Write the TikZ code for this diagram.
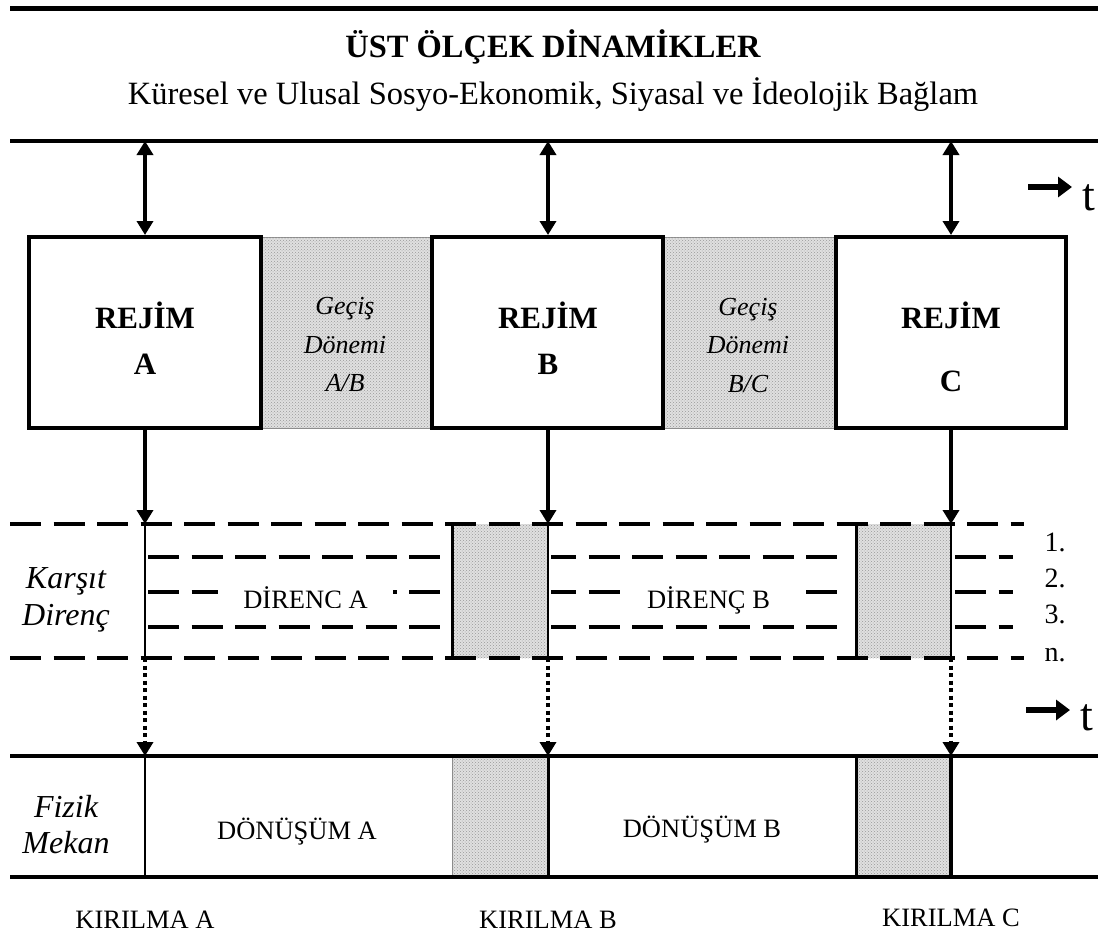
\documentclass[tikz,border=0pt]{standalone}
\usepackage{fontspec}
\setmainfont{Liberation Serif}
\usetikzlibrary{arrows.meta,patterns}
\newcommand{\sizept}[1]{\fontsize{#1}{#1}\selectfont}

\begin{document}
\begin{tikzpicture}[x=1pt,y=-1pt,
  rule/.style={line width=4pt},
  frame/.style={draw, line width=4pt, minimum height=191pt, inner sep=0pt},
  shadebox/.style={fill=black!12, postaction={pattern=crosshatch dots, pattern color=black!40}},
  lbl/.style={inner sep=0pt, anchor=base},
  reg/.style={lbl, font=\bfseries\sizept{31}},
  ital/.style={lbl, font=\itshape\sizept{26}},
  side/.style={lbl, font=\itshape\sizept{32}},
  plain/.style={lbl, font=\sizept{26.5}},
  num/.style={lbl, font=\sizept{28}},
  tee/.style={lbl, font=\sizept{46}},
  dbl/.style={line width=3.5pt, {Triangle[length=14pt,width=16pt]}-{Triangle[length=14pt,width=16pt]}},
  down/.style={line width=3.5pt, -{Triangle[length=14pt,width=16pt]}},
  dotdown/.style={line width=4pt, dash pattern=on 4pt off 3.5pt, -{Triangle[length=14pt,width=16pt]}},
  level/.style={line width=4pt, dash pattern=on 31pt off 12.5pt},
  timearrow/.style={line width=6pt, -{Triangle[length=14pt,width=20pt]}}
]
\useasboundingbox (0,0) rectangle (1106,935);

% ---------- header ----------
\draw[line width=5pt] (10,8) -- (1098,8);
\node[lbl, font=\bfseries\sizept{32.5}] (title) at (553,57) {ÜST ÖLÇEK DİNAMİKLER};
\node[lbl, font=\sizept{32.5}] (subtitle) at (553,104) {Küresel ve Ulusal Sosyo-Ekonomik, Siyasal ve İdeolojik Bağlam};
\draw[rule] (10,141) -- (1098,141);

% time arrow (upper)
\coordinate (t1s) at (1028,187);
\coordinate (t1e) at (1072,187);
\draw[timearrow] (t1s) -- (t1e);
\node[tee] (t1) at (1089,210) {t};

% ---------- regime row ----------
\node[shadebox, draw=black!45, line width=1pt, minimum width=171pt, minimum height=191pt, inner sep=0pt] (gab) at (346.5,332.5) {};
\node[shadebox, draw=black!45, line width=1pt, minimum width=173pt, minimum height=191pt, inner sep=0pt] (gbc) at (749.5,332.5) {};
\node[frame, minimum width=232pt] (ra) at (145,332.5) {};
\node[frame, minimum width=231pt] (rb) at (547.5,332.5) {};
\node[frame, minimum width=230pt] (rc) at (951,332.5) {};

\node[reg] (ra1) at (145,328) {REJİM};
\node[reg] (ra2) at (145,374) {A};
\node[reg] (rb1) at (548,328) {REJİM};
\node[reg] (rb2) at (548,374) {B};
\node[reg] (rc1) at (951,328) {REJİM};
\node[reg] (rc2) at (951,391) {C};

\node[ital] (gab1) at (345,314) {Geçiş};
\node[ital] (gab2) at (345,353) {Dönemi};
\node[ital] (gab3) at (345,391) {A/B};
\node[ital] (gbc1) at (748,315) {Geçiş};
\node[ital] (gbc2) at (748,353) {Dönemi};
\node[ital] (gbc3) at (748,392) {B/C};

% links to the upper context
\coordinate (ua) at (145,141);
\coordinate (ub) at (548,141);
\coordinate (uc) at (951,141);
\draw[dbl] (ua) -- (ra.north);
\draw[dbl] (ub) -- (ra.north -| ub);
\draw[dbl] (uc) -- (rc.north);

% ---------- opposing resistance row ----------
\coordinate (da) at (145,524);
\coordinate (db) at (548,524);
\coordinate (dc) at (951,524);
\coordinate (na) at (145,658);
\coordinate (nb) at (548,658);
\coordinate (nc) at (951,658);

\path[shadebox] (452,524) rectangle (548,658);
\path[shadebox] (856,524) rectangle (951,658);

% resistance levels
\draw[level] (10,524) -- (1024,524);
\draw[level] (10,658) -- (1024,658);
\foreach \yy in {557,592,627}{
  \draw[level] (148,\yy) -- (445,\yy);
  \draw[level, dash phase=6pt] (551,\yy) -- (841,\yy);
  \draw[level] (955,\yy) -- (1013,\yy);
}

\draw[line width=2pt] (da) -- (na);
\draw[line width=3pt] (452,524) -- (452,658);
\draw[line width=2.5pt] (db) -- (nb);
\draw[line width=3pt] (856,524) -- (856,658);
\draw[line width=2pt] (dc) -- (nc);

\begin{scope}
  \clip (200,575) rectangle (410,607);
  \node[plain, fill=white, minimum width=175pt, inner ysep=1pt, text depth=2pt] (dira) at (305.5,608) {DİRENÇ A};
\end{scope}
\node[plain, fill=white, minimum width=175pt, inner ysep=1pt, text depth=2pt] (dirb) at (708.5,608) {DİRENÇ B};

\node[side] (k1) at (66,588) {Karşıt};
\node[side] (k2) at (66,625) {Direnç};

\node[num] (l1) at (1055,551) {1.};
\node[num] (l2) at (1055,587) {2.};
\node[num] (l3) at (1055,623) {3.};
\node[num] (ln) at (1055,661) {n.};

\draw[down] (ra.south) -- (da);
\draw[down] (rb.south -| db) -- (db);
\draw[down] (rc.south) -- (dc);

% time arrow (lower)
\coordinate (t2s) at (1026,710);
\coordinate (t2e) at (1070,710);
\draw[timearrow] (t2s) -- (t2e);
\node[tee] (t2) at (1087,730) {t};

% ---------- physical space row ----------
\coordinate (fa) at (145,756);
\coordinate (fb) at (548,756);
\coordinate (fc) at (951,756);
\coordinate (ga) at (145,877);
\coordinate (gb) at (548,877);
\coordinate (gc) at (951,877);

\path[shadebox] (452,756) rectangle (548,877);
\path[shadebox] (856,756) rectangle (951,877);
\draw[black!45, line width=1pt] (452,756) -- (452,877);

\draw[rule] (10,756) -- (1098,756);
\draw[rule] (10,877) -- (1098,877);
\draw[line width=2pt] (fa) -- (ga);
\draw[line width=3pt] (fb) -- (gb);
\draw[line width=3pt] (856,756) -- (856,877);
\draw[line width=3.5pt] (fc) -- (gc);

\draw[dotdown] (na) -- (fa);
\draw[dotdown] (nb) -- (fb);
\draw[dotdown] (nc) -- (fc);

\node[side] (m1) at (66,817) {Fizik};
\node[side] (m2) at (66,853) {Mekan};
\node[plain] (tra) at (297,839) {DÖNÜŞÜM A};
\node[plain] (trb) at (702,837) {DÖNÜŞÜM B};

\node[plain] (ka) at (145,928) {KIRILMA A};
\node[plain] (kb) at (548,928) {KIRILMA B};
\node[plain] (kc) at (951,926) {KIRILMA C};
\end{tikzpicture}
\end{document}
